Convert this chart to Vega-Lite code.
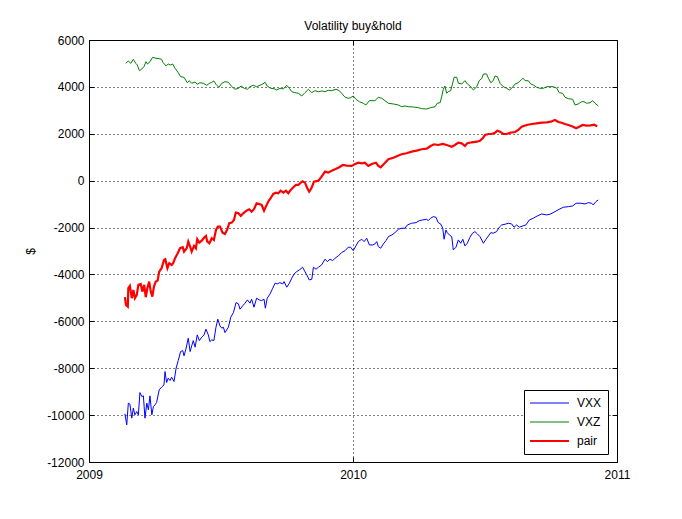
{
  "$schema": "https://vega.github.io/schema/vega-lite/v6.json",
  "width": 528,
  "height": 422,
  "autosize": {"type": "none"},
  "padding": {"left": 89, "top": 40, "right": 65, "bottom": 57},
  "background": "white",
  "title": {"text": "Volatility buy&hold", "font": "Liberation Sans", "fontSize": 12, "fontWeight": "normal", "color": "black", "offset": 1},
  "config": {
    "font": "Liberation Sans",
    "view": {"stroke": "black", "strokeWidth": 1},
    "axis": {
      "labelFont": "Liberation Sans",
      "labelFontSize": 12,
      "labelColor": "black",
      "domainColor": "black",
      "tickColor": "black",
      "tickSize": -5,
      "gridColor": "black",
      "gridDash": [1, 3],
      "gridOpacity": 1,
      "titleFont": "Liberation Sans",
      "titleFontSize": 12,
      "titleFontWeight": "normal",
      "titleColor": "black"
    },
    "legend": {
      "labelFont": "Liberation Sans",
      "labelFontSize": 12,
      "labelColor": "black",
      "fillColor": "white",
      "strokeColor": "black",
      "padding": 6,
      "symbolType": "stroke",
      "symbolSize": 1600,
      "clipHeight": 14,
      "symbolOffset": 13,
      "labelOffset": 22,
      "rowPadding": 5
    }
  },
  "data": {
    "values": [
      {"year": 2009.139, "series": "VXZ", "value": 5006},
      {"year": 2009.149, "series": "VXZ", "value": 5104},
      {"year": 2009.158, "series": "VXZ", "value": 5006},
      {"year": 2009.168, "series": "VXZ", "value": 5177},
      {"year": 2009.177, "series": "VXZ", "value": 5006},
      {"year": 2009.183, "series": "VXZ", "value": 4934},
      {"year": 2009.191, "series": "VXZ", "value": 4691},
      {"year": 2009.200, "series": "VXZ", "value": 4763},
      {"year": 2009.208, "series": "VXZ", "value": 4861},
      {"year": 2009.216, "series": "VXZ", "value": 5074},
      {"year": 2009.222, "series": "VXZ", "value": 4976},
      {"year": 2009.231, "series": "VXZ", "value": 5074},
      {"year": 2009.241, "series": "VXZ", "value": 5262},
      {"year": 2009.254, "series": "VXZ", "value": 5219},
      {"year": 2009.266, "series": "VXZ", "value": 5202},
      {"year": 2009.275, "series": "VXZ", "value": 5177},
      {"year": 2009.281, "series": "VXZ", "value": 5032},
      {"year": 2009.292, "series": "VXZ", "value": 4891},
      {"year": 2009.300, "series": "VXZ", "value": 4976},
      {"year": 2009.309, "series": "VXZ", "value": 4934},
      {"year": 2009.317, "series": "VXZ", "value": 4976},
      {"year": 2009.326, "series": "VXZ", "value": 4793},
      {"year": 2009.338, "series": "VXZ", "value": 4605},
      {"year": 2009.347, "series": "VXZ", "value": 4435},
      {"year": 2009.360, "series": "VXZ", "value": 4409},
      {"year": 2009.372, "series": "VXZ", "value": 4179},
      {"year": 2009.380, "series": "VXZ", "value": 4264},
      {"year": 2009.389, "series": "VXZ", "value": 4153},
      {"year": 2009.402, "series": "VXZ", "value": 4209},
      {"year": 2009.410, "series": "VXZ", "value": 4111},
      {"year": 2009.420, "series": "VXZ", "value": 4179},
      {"year": 2009.433, "series": "VXZ", "value": 4153},
      {"year": 2009.446, "series": "VXZ", "value": 4068},
      {"year": 2009.456, "series": "VXZ", "value": 4153},
      {"year": 2009.465, "series": "VXZ", "value": 4196},
      {"year": 2009.473, "series": "VXZ", "value": 4252},
      {"year": 2009.481, "series": "VXZ", "value": 4111},
      {"year": 2009.492, "series": "VXZ", "value": 3983},
      {"year": 2009.503, "series": "VXZ", "value": 4153},
      {"year": 2009.515, "series": "VXZ", "value": 4222},
      {"year": 2009.528, "series": "VXZ", "value": 4196},
      {"year": 2009.541, "series": "VXZ", "value": 4009},
      {"year": 2009.553, "series": "VXZ", "value": 3898},
      {"year": 2009.566, "series": "VXZ", "value": 3940},
      {"year": 2009.576, "series": "VXZ", "value": 4038},
      {"year": 2009.588, "series": "VXZ", "value": 3940},
      {"year": 2009.600, "series": "VXZ", "value": 3898},
      {"year": 2009.610, "series": "VXZ", "value": 4009},
      {"year": 2009.622, "series": "VXZ", "value": 4068},
      {"year": 2009.635, "series": "VXZ", "value": 4009},
      {"year": 2009.648, "series": "VXZ", "value": 4068},
      {"year": 2009.658, "series": "VXZ", "value": 4124},
      {"year": 2009.667, "series": "VXZ", "value": 4196},
      {"year": 2009.675, "series": "VXZ", "value": 4038},
      {"year": 2009.688, "series": "VXZ", "value": 3940},
      {"year": 2009.701, "series": "VXZ", "value": 3923},
      {"year": 2009.711, "series": "VXZ", "value": 3868},
      {"year": 2009.723, "series": "VXZ", "value": 3940},
      {"year": 2009.736, "series": "VXZ", "value": 3910},
      {"year": 2009.749, "series": "VXZ", "value": 4068},
      {"year": 2009.759, "series": "VXZ", "value": 3940},
      {"year": 2009.768, "series": "VXZ", "value": 3795},
      {"year": 2009.780, "series": "VXZ", "value": 3753},
      {"year": 2009.793, "series": "VXZ", "value": 3727},
      {"year": 2009.806, "series": "VXZ", "value": 3612},
      {"year": 2009.818, "series": "VXZ", "value": 3753},
      {"year": 2009.831, "series": "VXZ", "value": 3898},
      {"year": 2009.844, "series": "VXZ", "value": 3753},
      {"year": 2009.856, "series": "VXZ", "value": 3838},
      {"year": 2009.869, "series": "VXZ", "value": 3795},
      {"year": 2009.881, "series": "VXZ", "value": 3825},
      {"year": 2009.894, "series": "VXZ", "value": 3795},
      {"year": 2009.906, "series": "VXZ", "value": 3855},
      {"year": 2009.919, "series": "VXZ", "value": 3838},
      {"year": 2009.936, "series": "VXZ", "value": 3898},
      {"year": 2009.948, "series": "VXZ", "value": 3838},
      {"year": 2009.957, "series": "VXZ", "value": 3727},
      {"year": 2009.970, "series": "VXZ", "value": 3557},
      {"year": 2009.982, "series": "VXZ", "value": 3514},
      {"year": 2009.991, "series": "VXZ", "value": 3540},
      {"year": 2010.001, "series": "VXZ", "value": 3612},
      {"year": 2010.011, "series": "VXZ", "value": 3471},
      {"year": 2010.024, "series": "VXZ", "value": 3369},
      {"year": 2010.039, "series": "VXZ", "value": 3301},
      {"year": 2010.049, "series": "VXZ", "value": 3228},
      {"year": 2010.062, "series": "VXZ", "value": 3412},
      {"year": 2010.083, "series": "VXZ", "value": 3412},
      {"year": 2010.096, "series": "VXZ", "value": 3557},
      {"year": 2010.109, "series": "VXZ", "value": 3514},
      {"year": 2010.121, "series": "VXZ", "value": 3412},
      {"year": 2010.134, "series": "VXZ", "value": 3301},
      {"year": 2010.153, "series": "VXZ", "value": 3271},
      {"year": 2010.172, "series": "VXZ", "value": 3228},
      {"year": 2010.184, "series": "VXZ", "value": 3156},
      {"year": 2010.197, "series": "VXZ", "value": 3186},
      {"year": 2010.209, "series": "VXZ", "value": 3156},
      {"year": 2010.228, "series": "VXZ", "value": 3143},
      {"year": 2010.247, "series": "VXZ", "value": 3113},
      {"year": 2010.260, "series": "VXZ", "value": 3071},
      {"year": 2010.279, "series": "VXZ", "value": 3058},
      {"year": 2010.294, "series": "VXZ", "value": 3113},
      {"year": 2010.311, "series": "VXZ", "value": 3156},
      {"year": 2010.319, "series": "VXZ", "value": 3301},
      {"year": 2010.330, "series": "VXZ", "value": 3326},
      {"year": 2010.336, "series": "VXZ", "value": 3582},
      {"year": 2010.342, "series": "VXZ", "value": 3898},
      {"year": 2010.348, "series": "VXZ", "value": 4038},
      {"year": 2010.355, "series": "VXZ", "value": 3727},
      {"year": 2010.361, "series": "VXZ", "value": 3795},
      {"year": 2010.370, "series": "VXZ", "value": 3838},
      {"year": 2010.378, "series": "VXZ", "value": 4179},
      {"year": 2010.383, "series": "VXZ", "value": 4409},
      {"year": 2010.393, "series": "VXZ", "value": 4409},
      {"year": 2010.399, "series": "VXZ", "value": 4153},
      {"year": 2010.412, "series": "VXZ", "value": 4124},
      {"year": 2010.424, "series": "VXZ", "value": 4264},
      {"year": 2010.433, "series": "VXZ", "value": 4124},
      {"year": 2010.443, "series": "VXZ", "value": 4038},
      {"year": 2010.456, "series": "VXZ", "value": 3868},
      {"year": 2010.469, "series": "VXZ", "value": 4009},
      {"year": 2010.478, "series": "VXZ", "value": 4264},
      {"year": 2010.488, "series": "VXZ", "value": 4367},
      {"year": 2010.494, "series": "VXZ", "value": 4550},
      {"year": 2010.506, "series": "VXZ", "value": 4550},
      {"year": 2010.513, "series": "VXZ", "value": 4367},
      {"year": 2010.522, "series": "VXZ", "value": 4179},
      {"year": 2010.531, "series": "VXZ", "value": 4264},
      {"year": 2010.538, "series": "VXZ", "value": 4465},
      {"year": 2010.547, "series": "VXZ", "value": 4435},
      {"year": 2010.557, "series": "VXZ", "value": 4153},
      {"year": 2010.569, "series": "VXZ", "value": 4009},
      {"year": 2010.582, "series": "VXZ", "value": 3940},
      {"year": 2010.592, "series": "VXZ", "value": 3868},
      {"year": 2010.601, "series": "VXZ", "value": 3940},
      {"year": 2010.614, "series": "VXZ", "value": 4124},
      {"year": 2010.626, "series": "VXZ", "value": 4179},
      {"year": 2010.639, "series": "VXZ", "value": 4324},
      {"year": 2010.645, "series": "VXZ", "value": 4367},
      {"year": 2010.652, "series": "VXZ", "value": 4264},
      {"year": 2010.664, "series": "VXZ", "value": 4264},
      {"year": 2010.673, "series": "VXZ", "value": 4124},
      {"year": 2010.683, "series": "VXZ", "value": 4081},
      {"year": 2010.696, "series": "VXZ", "value": 3983},
      {"year": 2010.708, "series": "VXZ", "value": 3940},
      {"year": 2010.721, "series": "VXZ", "value": 3940},
      {"year": 2010.734, "series": "VXZ", "value": 4009},
      {"year": 2010.746, "series": "VXZ", "value": 4009},
      {"year": 2010.759, "series": "VXZ", "value": 4009},
      {"year": 2010.772, "series": "VXZ", "value": 3940},
      {"year": 2010.781, "series": "VXZ", "value": 3753},
      {"year": 2010.794, "series": "VXZ", "value": 3727},
      {"year": 2010.803, "series": "VXZ", "value": 3557},
      {"year": 2010.816, "series": "VXZ", "value": 3497},
      {"year": 2010.832, "series": "VXZ", "value": 3471},
      {"year": 2010.841, "series": "VXZ", "value": 3228},
      {"year": 2010.853, "series": "VXZ", "value": 3271},
      {"year": 2010.866, "series": "VXZ", "value": 3369},
      {"year": 2010.875, "series": "VXZ", "value": 3369},
      {"year": 2010.885, "series": "VXZ", "value": 3301},
      {"year": 2010.898, "series": "VXZ", "value": 3326},
      {"year": 2010.908, "series": "VXZ", "value": 3412},
      {"year": 2010.917, "series": "VXZ", "value": 3301},
      {"year": 2010.929, "series": "VXZ", "value": 3186},

      {"year": 2009.136, "series": "VXX", "value": -9946},
      {"year": 2009.143, "series": "VXX", "value": -10415},
      {"year": 2009.149, "series": "VXX", "value": -9490},
      {"year": 2009.155, "series": "VXX", "value": -9532},
      {"year": 2009.162, "series": "VXX", "value": -10129},
      {"year": 2009.168, "series": "VXX", "value": -9703},
      {"year": 2009.174, "series": "VXX", "value": -9988},
      {"year": 2009.181, "series": "VXX", "value": -9848},
      {"year": 2009.187, "series": "VXX", "value": -9988},
      {"year": 2009.193, "series": "VXX", "value": -9038},
      {"year": 2009.200, "series": "VXX", "value": -9208},
      {"year": 2009.206, "series": "VXX", "value": -9178},
      {"year": 2009.212, "series": "VXX", "value": -10129},
      {"year": 2009.219, "series": "VXX", "value": -9490},
      {"year": 2009.225, "series": "VXX", "value": -9775},
      {"year": 2009.231, "series": "VXX", "value": -9178},
      {"year": 2009.238, "series": "VXX", "value": -9988},
      {"year": 2009.244, "series": "VXX", "value": -9634},
      {"year": 2009.250, "series": "VXX", "value": -9562},
      {"year": 2009.256, "series": "VXX", "value": -9464},
      {"year": 2009.266, "series": "VXX", "value": -8923},
      {"year": 2009.275, "series": "VXX", "value": -8807},
      {"year": 2009.284, "series": "VXX", "value": -8709},
      {"year": 2009.288, "series": "VXX", "value": -8142},
      {"year": 2009.294, "series": "VXX", "value": -8611},
      {"year": 2009.300, "series": "VXX", "value": -8424},
      {"year": 2009.307, "series": "VXX", "value": -8526},
      {"year": 2009.313, "series": "VXX", "value": -8381},
      {"year": 2009.322, "series": "VXX", "value": -8569},
      {"year": 2009.330, "series": "VXX", "value": -7997},
      {"year": 2009.338, "series": "VXX", "value": -7673},
      {"year": 2009.347, "series": "VXX", "value": -7290},
      {"year": 2009.355, "series": "VXX", "value": -7247},
      {"year": 2009.360, "series": "VXX", "value": -7473},
      {"year": 2009.367, "series": "VXX", "value": -7187},
      {"year": 2009.376, "series": "VXX", "value": -6718},
      {"year": 2009.383, "series": "VXX", "value": -7290},
      {"year": 2009.389, "series": "VXX", "value": -7047},
      {"year": 2009.395, "series": "VXX", "value": -6821},
      {"year": 2009.402, "series": "VXX", "value": -7102},
      {"year": 2009.410, "series": "VXX", "value": -6578},
      {"year": 2009.418, "series": "VXX", "value": -6821},
      {"year": 2009.427, "series": "VXX", "value": -6676},
      {"year": 2009.436, "series": "VXX", "value": -6578},
      {"year": 2009.443, "series": "VXX", "value": -6335},
      {"year": 2009.452, "series": "VXX", "value": -6578},
      {"year": 2009.458, "series": "VXX", "value": -6863},
      {"year": 2009.465, "series": "VXX", "value": -6791},
      {"year": 2009.473, "series": "VXX", "value": -6821},
      {"year": 2009.481, "series": "VXX", "value": -6250},
      {"year": 2009.488, "series": "VXX", "value": -5909},
      {"year": 2009.496, "series": "VXX", "value": -6194},
      {"year": 2009.503, "series": "VXX", "value": -6292},
      {"year": 2009.509, "series": "VXX", "value": -6250},
      {"year": 2009.515, "series": "VXX", "value": -6480},
      {"year": 2009.528, "series": "VXX", "value": -6250},
      {"year": 2009.537, "series": "VXX", "value": -5823},
      {"year": 2009.547, "series": "VXX", "value": -5627},
      {"year": 2009.557, "series": "VXX", "value": -5201},
      {"year": 2009.566, "series": "VXX", "value": -5256},
      {"year": 2009.572, "series": "VXX", "value": -5482},
      {"year": 2009.582, "series": "VXX", "value": -5342},
      {"year": 2009.591, "series": "VXX", "value": -5226},
      {"year": 2009.600, "series": "VXX", "value": -5086},
      {"year": 2009.610, "series": "VXX", "value": -5226},
      {"year": 2009.616, "series": "VXX", "value": -5056},
      {"year": 2009.625, "series": "VXX", "value": -5397},
      {"year": 2009.635, "series": "VXX", "value": -5013},
      {"year": 2009.645, "series": "VXX", "value": -5086},
      {"year": 2009.654, "series": "VXX", "value": -5116},
      {"year": 2009.663, "series": "VXX", "value": -5056},
      {"year": 2009.668, "series": "VXX", "value": -5440},
      {"year": 2009.675, "series": "VXX", "value": -5013},
      {"year": 2009.686, "series": "VXX", "value": -4830},
      {"year": 2009.696, "series": "VXX", "value": -4587},
      {"year": 2009.705, "series": "VXX", "value": -4374},
      {"year": 2009.713, "series": "VXX", "value": -4404},
      {"year": 2009.723, "series": "VXX", "value": -4348},
      {"year": 2009.734, "series": "VXX", "value": -4404},
      {"year": 2009.739, "series": "VXX", "value": -4306},
      {"year": 2009.749, "series": "VXX", "value": -4544},
      {"year": 2009.759, "series": "VXX", "value": -4374},
      {"year": 2009.768, "series": "VXX", "value": -4161},
      {"year": 2009.777, "series": "VXX", "value": -3977},
      {"year": 2009.787, "series": "VXX", "value": -3879},
      {"year": 2009.797, "series": "VXX", "value": -3807},
      {"year": 2009.809, "series": "VXX", "value": -3692},
      {"year": 2009.818, "series": "VXX", "value": -3879},
      {"year": 2009.827, "series": "VXX", "value": -4063},
      {"year": 2009.834, "series": "VXX", "value": -4233},
      {"year": 2009.844, "series": "VXX", "value": -4203},
      {"year": 2009.850, "series": "VXX", "value": -3692},
      {"year": 2009.860, "series": "VXX", "value": -3777},
      {"year": 2009.869, "series": "VXX", "value": -3692},
      {"year": 2009.881, "series": "VXX", "value": -3594},
      {"year": 2009.894, "series": "VXX", "value": -3351},
      {"year": 2009.903, "series": "VXX", "value": -3453},
      {"year": 2009.913, "series": "VXX", "value": -3351},
      {"year": 2009.923, "series": "VXX", "value": -3410},
      {"year": 2009.932, "series": "VXX", "value": -3308},
      {"year": 2009.944, "series": "VXX", "value": -3210},
      {"year": 2009.957, "series": "VXX", "value": -3069},
      {"year": 2009.970, "series": "VXX", "value": -2984},
      {"year": 2009.982, "series": "VXX", "value": -2839},
      {"year": 2009.991, "series": "VXX", "value": -2839},
      {"year": 2010.001, "series": "VXX", "value": -2984},
      {"year": 2010.011, "series": "VXX", "value": -2784},
      {"year": 2010.020, "series": "VXX", "value": -2600},
      {"year": 2010.033, "series": "VXX", "value": -2498},
      {"year": 2010.042, "series": "VXX", "value": -2600},
      {"year": 2010.052, "series": "VXX", "value": -2456},
      {"year": 2010.062, "series": "VXX", "value": -2741},
      {"year": 2010.075, "series": "VXX", "value": -2741},
      {"year": 2010.083, "series": "VXX", "value": -2698},
      {"year": 2010.090, "series": "VXX", "value": -2600},
      {"year": 2010.096, "series": "VXX", "value": -2814},
      {"year": 2010.105, "series": "VXX", "value": -2882},
      {"year": 2010.115, "series": "VXX", "value": -2698},
      {"year": 2010.125, "series": "VXX", "value": -2558},
      {"year": 2010.134, "series": "VXX", "value": -2387},
      {"year": 2010.147, "series": "VXX", "value": -2315},
      {"year": 2010.159, "series": "VXX", "value": -2217},
      {"year": 2010.172, "series": "VXX", "value": -2072},
      {"year": 2010.184, "series": "VXX", "value": -2029},
      {"year": 2010.197, "series": "VXX", "value": -2029},
      {"year": 2010.206, "series": "VXX", "value": -1889},
      {"year": 2010.222, "series": "VXX", "value": -1816},
      {"year": 2010.239, "series": "VXX", "value": -1790},
      {"year": 2010.251, "series": "VXX", "value": -1705},
      {"year": 2010.264, "series": "VXX", "value": -1675},
      {"year": 2010.279, "series": "VXX", "value": -1646},
      {"year": 2010.285, "series": "VXX", "value": -1705},
      {"year": 2010.294, "series": "VXX", "value": -1603},
      {"year": 2010.304, "series": "VXX", "value": -1535},
      {"year": 2010.314, "series": "VXX", "value": -1560},
      {"year": 2010.323, "series": "VXX", "value": -1790},
      {"year": 2010.332, "series": "VXX", "value": -1846},
      {"year": 2010.340, "series": "VXX", "value": -2029},
      {"year": 2010.345, "series": "VXX", "value": -2498},
      {"year": 2010.352, "series": "VXX", "value": -2102},
      {"year": 2010.357, "series": "VXX", "value": -2217},
      {"year": 2010.365, "series": "VXX", "value": -2315},
      {"year": 2010.374, "series": "VXX", "value": -2387},
      {"year": 2010.380, "series": "VXX", "value": -2954},
      {"year": 2010.390, "series": "VXX", "value": -2839},
      {"year": 2010.399, "series": "VXX", "value": -2528},
      {"year": 2010.408, "series": "VXX", "value": -2669},
      {"year": 2010.416, "series": "VXX", "value": -2498},
      {"year": 2010.424, "series": "VXX", "value": -2784},
      {"year": 2010.433, "series": "VXX", "value": -2669},
      {"year": 2010.443, "series": "VXX", "value": -2413},
      {"year": 2010.453, "series": "VXX", "value": -2242},
      {"year": 2010.462, "series": "VXX", "value": -2174},
      {"year": 2010.471, "series": "VXX", "value": -2272},
      {"year": 2010.481, "series": "VXX", "value": -2387},
      {"year": 2010.494, "series": "VXX", "value": -2669},
      {"year": 2010.504, "series": "VXX", "value": -2498},
      {"year": 2010.513, "series": "VXX", "value": -2357},
      {"year": 2010.522, "series": "VXX", "value": -2217},
      {"year": 2010.531, "series": "VXX", "value": -2242},
      {"year": 2010.544, "series": "VXX", "value": -2174},
      {"year": 2010.554, "series": "VXX", "value": -1987},
      {"year": 2010.563, "series": "VXX", "value": -1889},
      {"year": 2010.576, "series": "VXX", "value": -1859},
      {"year": 2010.588, "series": "VXX", "value": -1816},
      {"year": 2010.601, "series": "VXX", "value": -1846},
      {"year": 2010.610, "series": "VXX", "value": -1987},
      {"year": 2010.620, "series": "VXX", "value": -1889},
      {"year": 2010.630, "series": "VXX", "value": -1987},
      {"year": 2010.643, "series": "VXX", "value": -1931},
      {"year": 2010.655, "series": "VXX", "value": -1889},
      {"year": 2010.668, "series": "VXX", "value": -1675},
      {"year": 2010.683, "series": "VXX", "value": -1603},
      {"year": 2010.698, "series": "VXX", "value": -1505},
      {"year": 2010.715, "series": "VXX", "value": -1420},
      {"year": 2010.734, "series": "VXX", "value": -1462},
      {"year": 2010.749, "series": "VXX", "value": -1420},
      {"year": 2010.765, "series": "VXX", "value": -1322},
      {"year": 2010.781, "series": "VXX", "value": -1219},
      {"year": 2010.797, "series": "VXX", "value": -1134},
      {"year": 2010.816, "series": "VXX", "value": -1108},
      {"year": 2010.832, "series": "VXX", "value": -1079},
      {"year": 2010.845, "series": "VXX", "value": -963},
      {"year": 2010.863, "series": "VXX", "value": -963},
      {"year": 2010.879, "series": "VXX", "value": -993},
      {"year": 2010.891, "series": "VXX", "value": -938},
      {"year": 2010.904, "series": "VXX", "value": -963},
      {"year": 2010.910, "series": "VXX", "value": -1036},
      {"year": 2010.920, "series": "VXX", "value": -895},
      {"year": 2010.929, "series": "VXX", "value": -823},

      {"year": 2009.136, "series": "pair", "value": -4971},
      {"year": 2009.140, "series": "pair", "value": -5299},
      {"year": 2009.147, "series": "pair", "value": -5371},
      {"year": 2009.149, "series": "pair", "value": -4587},
      {"year": 2009.155, "series": "pair", "value": -4489},
      {"year": 2009.162, "series": "pair", "value": -5013},
      {"year": 2009.168, "series": "pair", "value": -4659},
      {"year": 2009.174, "series": "pair", "value": -5013},
      {"year": 2009.181, "series": "pair", "value": -4873},
      {"year": 2009.187, "series": "pair", "value": -4446},
      {"year": 2009.196, "series": "pair", "value": -4404},
      {"year": 2009.202, "series": "pair", "value": -4732},
      {"year": 2009.209, "series": "pair", "value": -4446},
      {"year": 2009.215, "series": "pair", "value": -4971},
      {"year": 2009.221, "series": "pair", "value": -4587},
      {"year": 2009.228, "series": "pair", "value": -4306},
      {"year": 2009.234, "series": "pair", "value": -4732},
      {"year": 2009.240, "series": "pair", "value": -4945},
      {"year": 2009.246, "series": "pair", "value": -4519},
      {"year": 2009.253, "series": "pair", "value": -4306},
      {"year": 2009.260, "series": "pair", "value": -4263},
      {"year": 2009.266, "series": "pair", "value": -3879},
      {"year": 2009.275, "series": "pair", "value": -3734},
      {"year": 2009.284, "series": "pair", "value": -3381},
      {"year": 2009.289, "series": "pair", "value": -3351},
      {"year": 2009.297, "series": "pair", "value": -3734},
      {"year": 2009.304, "series": "pair", "value": -3521},
      {"year": 2009.313, "series": "pair", "value": -3594},
      {"year": 2009.319, "series": "pair", "value": -3521},
      {"year": 2009.326, "series": "pair", "value": -3308},
      {"year": 2009.334, "series": "pair", "value": -3138},
      {"year": 2009.345, "series": "pair", "value": -2882},
      {"year": 2009.355, "series": "pair", "value": -2839},
      {"year": 2009.360, "series": "pair", "value": -3027},
      {"year": 2009.370, "series": "pair", "value": -2882},
      {"year": 2009.376, "series": "pair", "value": -2600},
      {"year": 2009.383, "series": "pair", "value": -2814},
      {"year": 2009.389, "series": "pair", "value": -3027},
      {"year": 2009.398, "series": "pair", "value": -2784},
      {"year": 2009.405, "series": "pair", "value": -2882},
      {"year": 2009.410, "series": "pair", "value": -2498},
      {"year": 2009.418, "series": "pair", "value": -2643},
      {"year": 2009.427, "series": "pair", "value": -2558},
      {"year": 2009.437, "series": "pair", "value": -2413},
      {"year": 2009.443, "series": "pair", "value": -2357},
      {"year": 2009.448, "series": "pair", "value": -2600},
      {"year": 2009.456, "series": "pair", "value": -2669},
      {"year": 2009.465, "series": "pair", "value": -2456},
      {"year": 2009.473, "series": "pair", "value": -2528},
      {"year": 2009.481, "series": "pair", "value": -2102},
      {"year": 2009.488, "series": "pair", "value": -1961},
      {"year": 2009.496, "series": "pair", "value": -1961},
      {"year": 2009.506, "series": "pair", "value": -2217},
      {"year": 2009.515, "series": "pair", "value": -2272},
      {"year": 2009.524, "series": "pair", "value": -2072},
      {"year": 2009.531, "series": "pair", "value": -1816},
      {"year": 2009.541, "series": "pair", "value": -1790},
      {"year": 2009.549, "series": "pair", "value": -1675},
      {"year": 2009.556, "series": "pair", "value": -1364},
      {"year": 2009.566, "series": "pair", "value": -1390},
      {"year": 2009.575, "series": "pair", "value": -1505},
      {"year": 2009.584, "series": "pair", "value": -1390},
      {"year": 2009.597, "series": "pair", "value": -1279},
      {"year": 2009.607, "series": "pair", "value": -1219},
      {"year": 2009.616, "series": "pair", "value": -1322},
      {"year": 2009.625, "series": "pair", "value": -1219},
      {"year": 2009.635, "series": "pair", "value": -963},
      {"year": 2009.645, "series": "pair", "value": -993},
      {"year": 2009.654, "series": "pair", "value": -1036},
      {"year": 2009.663, "series": "pair", "value": -1279},
      {"year": 2009.670, "series": "pair", "value": -1108},
      {"year": 2009.679, "series": "pair", "value": -895},
      {"year": 2009.688, "series": "pair", "value": -750},
      {"year": 2009.698, "series": "pair", "value": -567},
      {"year": 2009.708, "series": "pair", "value": -512},
      {"year": 2009.717, "series": "pair", "value": -537},
      {"year": 2009.726, "series": "pair", "value": -426},
      {"year": 2009.736, "series": "pair", "value": -512},
      {"year": 2009.746, "series": "pair", "value": -426},
      {"year": 2009.755, "series": "pair", "value": -537},
      {"year": 2009.764, "series": "pair", "value": -396},
      {"year": 2009.774, "series": "pair", "value": -281},
      {"year": 2009.784, "series": "pair", "value": -183},
      {"year": 2009.793, "series": "pair", "value": -183},
      {"year": 2009.802, "series": "pair", "value": -85},
      {"year": 2009.809, "series": "pair", "value": -26},
      {"year": 2009.818, "series": "pair", "value": -85},
      {"year": 2009.827, "series": "pair", "value": -324},
      {"year": 2009.834, "series": "pair", "value": -469},
      {"year": 2009.837, "series": "pair", "value": -426},
      {"year": 2009.844, "series": "pair", "value": -281},
      {"year": 2009.852, "series": "pair", "value": -43},
      {"year": 2009.869, "series": "pair", "value": 0},
      {"year": 2009.881, "series": "pair", "value": 171},
      {"year": 2009.894, "series": "pair", "value": 384},
      {"year": 2009.906, "series": "pair", "value": 341},
      {"year": 2009.919, "series": "pair", "value": 426},
      {"year": 2009.932, "series": "pair", "value": 486},
      {"year": 2009.948, "series": "pair", "value": 571},
      {"year": 2009.961, "series": "pair", "value": 669},
      {"year": 2009.976, "series": "pair", "value": 639},
      {"year": 2009.995, "series": "pair", "value": 627},
      {"year": 2010.008, "series": "pair", "value": 712},
      {"year": 2010.020, "series": "pair", "value": 767},
      {"year": 2010.033, "series": "pair", "value": 742},
      {"year": 2010.045, "series": "pair", "value": 767},
      {"year": 2010.058, "series": "pair", "value": 627},
      {"year": 2010.071, "series": "pair", "value": 712},
      {"year": 2010.087, "series": "pair", "value": 767},
      {"year": 2010.096, "series": "pair", "value": 627},
      {"year": 2010.105, "series": "pair", "value": 571},
      {"year": 2010.117, "series": "pair", "value": 712},
      {"year": 2010.134, "series": "pair", "value": 912},
      {"year": 2010.153, "series": "pair", "value": 980},
      {"year": 2010.168, "series": "pair", "value": 1053},
      {"year": 2010.184, "series": "pair", "value": 1125},
      {"year": 2010.203, "series": "pair", "value": 1168},
      {"year": 2010.222, "series": "pair", "value": 1236},
      {"year": 2010.241, "series": "pair", "value": 1279},
      {"year": 2010.260, "series": "pair", "value": 1339},
      {"year": 2010.279, "series": "pair", "value": 1364},
      {"year": 2010.294, "series": "pair", "value": 1479},
      {"year": 2010.307, "series": "pair", "value": 1552},
      {"year": 2010.323, "series": "pair", "value": 1522},
      {"year": 2010.340, "series": "pair", "value": 1565},
      {"year": 2010.355, "series": "pair", "value": 1522},
      {"year": 2010.374, "series": "pair", "value": 1449},
      {"year": 2010.386, "series": "pair", "value": 1522},
      {"year": 2010.399, "series": "pair", "value": 1620},
      {"year": 2010.412, "series": "pair", "value": 1594},
      {"year": 2010.424, "series": "pair", "value": 1479},
      {"year": 2010.433, "series": "pair", "value": 1594},
      {"year": 2010.450, "series": "pair", "value": 1637},
      {"year": 2010.469, "series": "pair", "value": 1663},
      {"year": 2010.481, "series": "pair", "value": 1705},
      {"year": 2010.491, "series": "pair", "value": 1807},
      {"year": 2010.500, "series": "pair", "value": 1948},
      {"year": 2010.513, "series": "pair", "value": 1991},
      {"year": 2010.525, "series": "pair", "value": 1991},
      {"year": 2010.538, "series": "pair", "value": 2046},
      {"year": 2010.547, "series": "pair", "value": 2132},
      {"year": 2010.557, "series": "pair", "value": 2089},
      {"year": 2010.569, "series": "pair", "value": 1991},
      {"year": 2010.582, "series": "pair", "value": 1991},
      {"year": 2010.595, "series": "pair", "value": 2046},
      {"year": 2010.614, "series": "pair", "value": 2076},
      {"year": 2010.626, "series": "pair", "value": 2161},
      {"year": 2010.639, "series": "pair", "value": 2302},
      {"year": 2010.658, "series": "pair", "value": 2375},
      {"year": 2010.677, "series": "pair", "value": 2417},
      {"year": 2010.696, "series": "pair", "value": 2447},
      {"year": 2010.715, "series": "pair", "value": 2473},
      {"year": 2010.734, "series": "pair", "value": 2490},
      {"year": 2010.749, "series": "pair", "value": 2515},
      {"year": 2010.765, "series": "pair", "value": 2588},
      {"year": 2010.778, "series": "pair", "value": 2502},
      {"year": 2010.790, "series": "pair", "value": 2473},
      {"year": 2010.803, "series": "pair", "value": 2417},
      {"year": 2010.819, "series": "pair", "value": 2362},
      {"year": 2010.834, "series": "pair", "value": 2302},
      {"year": 2010.845, "series": "pair", "value": 2234},
      {"year": 2010.857, "series": "pair", "value": 2302},
      {"year": 2010.870, "series": "pair", "value": 2375},
      {"year": 2010.885, "series": "pair", "value": 2345},
      {"year": 2010.900, "series": "pair", "value": 2362},
      {"year": 2010.913, "series": "pair", "value": 2387},
      {"year": 2010.925, "series": "pair", "value": 2319}
    ]
  },
  "layer": [
    {
      "mark": {"type": "line"},
      "encoding": {
        "x": {
          "field": "year",
          "type": "quantitative",
          "scale": {"domain": [2009, 2011], "nice": false, "zero": false},
          "axis": {"orient": "bottom", "title": null, "values": [2009, 2010, 2011], "labelExpr": "datum.value + ''", "grid": true, "labelPadding": 12, "labelFlush": false}
        },
        "y": {
          "field": "value",
          "type": "quantitative",
          "scale": {"domain": [-12000, 6000], "nice": false, "zero": false},
          "axis": {"orient": "left", "title": "$", "titleAngle": -90, "titlePadding": 9, "values": [-12000, -10000, -8000, -6000, -4000, -2000, 0, 2000, 4000, 6000], "labelExpr": "datum.value + ''", "grid": true, "labelPadding": 10}
        },
        "color": {
          "field": "series",
          "type": "nominal",
          "scale": {"domain": ["VXX", "VXZ", "pair"], "range": ["#0000ff", "#008000", "#ff0000"]},
          "legend": {
            "title": null,
            "orient": "none",
            "legendX": 435,
            "legendY": 350,
            "encode": {"symbols": {"update": {"strokeWidth": {"signal": "datum.value === 'pair' ? 2.2 : 1"}}}}
          }
        },
        "strokeWidth": {
          "condition": {"test": "datum.series === 'pair'", "value": 2.2},
          "value": 1
        }
      }
    },
    {
      "mark": {"type": "line", "opacity": 0},
      "encoding": {
        "x": {
          "field": "year",
          "type": "quantitative",
          "scale": {"domain": [2009, 2011], "nice": false, "zero": false},
          "axis": {"orient": "top", "title": null, "values": [2009, 2010, 2011], "labels": false, "grid": false, "domain": false}
        },
        "y": {
          "field": "value",
          "type": "quantitative",
          "scale": {"domain": [-12000, 6000], "nice": false, "zero": false},
          "axis": {"orient": "right", "title": null, "values": [-12000, -10000, -8000, -6000, -4000, -2000, 0, 2000, 4000, 6000], "labels": false, "grid": false, "domain": false}
        },
        "detail": {"field": "series", "type": "nominal"}
      }
    }
  ],
  "resolve": {"axis": {"x": "independent", "y": "independent"}}
}
